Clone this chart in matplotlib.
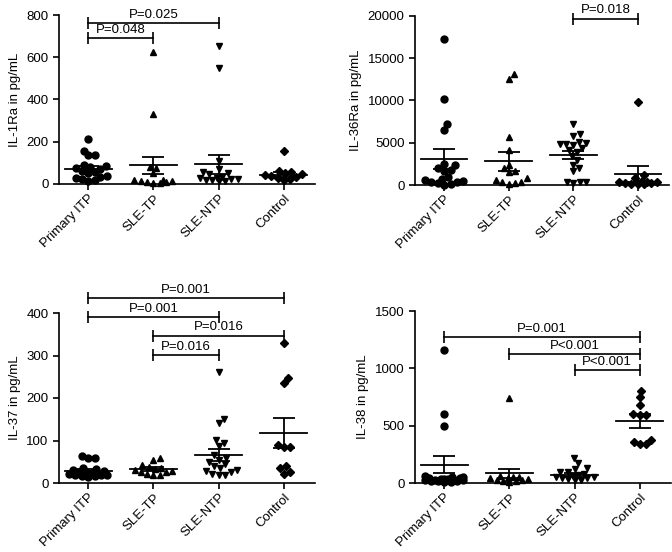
import numpy as np
import matplotlib
matplotlib.use("Agg")
from matplotlib import pyplot as plt

plt.rcParams['font.family'] = ['Liberation Sans', 'DejaVu Sans']
plt.rcParams['font.size'] = 9.5

groups = ["Primary ITP", "SLE-TP", "SLE-NTP", "Control"]
markers = ["o", "^", "v", "D"]

# IL-1Ra
il1ra = [
    [211, 157, 137, 135, 90, 85, 80, 75, 70, 60, 55, 50, 40, 35, 30, 25, 20, 15],
    [625, 330, 80, 78, 50, 20, 18, 15, 12, 10, 8, 6, 5],
    [655, 550, 110, 72, 55, 50, 45, 35, 30, 28, 25, 22, 20, 18, 15, 12],
    [155, 60, 55, 50, 45, 42, 38, 35, 30, 25, 20],
]
il1ra_mean = [72, 88, 93, 43]
il1ra_sem = [11, 42, 44, 12]

# IL-36Ra
il36ra = [
    [17300, 10200, 7200, 6500, 2500, 2400, 2000, 1800, 1700, 900, 700, 600, 500, 400, 300, 200, 100, 50],
    [13100, 12600, 5700, 4100, 2400, 2000, 1600, 1500, 800, 600, 400, 300, 200, 100],
    [7200, 6000, 5800, 5100, 5000, 4900, 4800, 4700, 4400, 4100, 3900, 3400, 3000, 2400, 2000, 1600, 400, 300, 300, 200],
    [9800, 1200, 800, 500, 400, 300, 300, 200, 200, 150, 100, 100],
]
il36ra_mean = [3100, 2800, 3550, 1300]
il36ra_sem = [1150, 1100, 450, 1000]

# IL-37
il37 = [
    [63, 60, 58, 35, 32, 30, 28, 27, 25, 24, 22, 21, 20, 19, 18, 17, 16, 15],
    [60, 55, 42, 38, 35, 33, 30, 28, 26, 25, 22, 20, 18],
    [262, 150, 142, 102, 95, 88, 65, 60, 55, 50, 45, 40, 35, 30, 28, 25, 22, 20, 20],
    [330, 247, 235, 90, 85, 85, 40, 35, 27, 22],
]
il37_mean = [28, 33, 66, 118]
il37_sem = [4, 5, 14, 35]

# IL-38
il38 = [
    [1160, 600, 500, 60, 55, 50, 45, 40, 38, 35, 32, 30, 28, 25, 22, 20, 18, 15, 12, 10],
    [740, 60, 55, 50, 45, 40, 35, 30, 25, 20, 15, 10],
    [222, 175, 130, 125, 100, 95, 80, 70, 60, 55, 50, 45, 40, 35, 30, 25],
    [805, 750, 680, 600, 595, 590, 375, 360, 340, 340],
]
il38_mean = [160, 85, 68, 540]
il38_sem = [75, 40, 20, 58]

# brackets: (group a, group b, height, label)
br1 = [(0, 1, 690, "P=0.048"), (0, 2, 763, "P=0.025")]
br2 = [(2, 3, 19700, "P=0.018")]
br3 = [(0, 3, 436, "P=0.001"), (0, 2, 390, "P=0.001"), (1, 3, 347, "P=0.016"), (1, 2, 302, "P=0.016")]
br4 = [(0, 3, 1273, "P=0.001"), (1, 3, 1127, "P<0.001"), (2, 3, 982, "P<0.001")]

W, H = 672, 552
fig = plt.figure(figsize=(W / 100, H / 100), dpi=100)


def swarm(ax, vals, d, lim):
    # beeswarm in pixel space, kept within +-lim px (overlap allowed when full)
    to_px = ax.transData.transform
    ppx = to_px((1, 0))[0] - to_px((0, 0))[0]
    ys = [to_px((0, v))[1] for v in vals]
    order = np.argsort(ys)
    placed = []
    xs = np.zeros(len(vals))
    grid = np.linspace(-lim, lim, 21)
    for i in order:
        y = ys[i]
        cands = [0.0]
        for (px, py) in placed:
            dy = abs(py - y)
            if dy < d:
                dx = np.sqrt(d * d - dy * dy)
                cands += [px + dx, px - dx]
        cands = sorted([c for c in cands if abs(c) <= lim], key=abs)
        best = None
        for c in cands:
            if all((c - px) ** 2 + (y - py) ** 2 >= d * d - 1e-6 for px, py in placed):
                best = c
                break
        if best is None:
            score = [min((g - px) ** 2 + (y - py) ** 2 for px, py in placed) for g in grid]
            best = grid[int(np.argmax(score))]
        placed.append((best, y))
        xs[i] = best / ppx
    return xs


def panel(rect, data, means, sems, ymax, step, ylabel, brackets):
    ax = fig.add_axes(rect)
    ax.set_xlim(-0.45, 3.48)
    ax.set_ylim(0, ymax)
    ax.spines['top'].set_visible(False)
    ax.spines['right'].set_visible(False)
    for s in ['left', 'bottom']:
        ax.spines[s].set_linewidth(1.2)
    ax.tick_params(width=1.2, length=4, labelsize=9.5)
    ax.tick_params(axis='x', pad=2)
    ax.set_yticks(np.arange(0, ymax + 1, step))
    ax.set_xticks(range(4))
    ax.set_xticklabels(groups, rotation=45, ha='right', rotation_mode='anchor')
    ax.set_ylabel(ylabel, fontsize=9.5)
    for i, vals in enumerate(data):
        xs = swarm(ax, vals, 6.5, 19)
        ms = 5 if markers[i] != 'D' else 4.2
        ax.plot(i + xs, vals, linestyle='none', marker=markers[i], color='black',
                markersize=ms, clip_on=False, zorder=3)
        m, s = means[i], sems[i]
        ax.plot([i - 0.36, i + 0.36], [m, m], color='black', lw=1.3, zorder=4)
        ax.errorbar(i, m, yerr=s, color='black', lw=1.3, capsize=8, capthick=1.3, zorder=4)
    for a, b, h, lab in brackets:
        ax.plot([a, b], [h, h], color='black', lw=1.2, clip_on=False)
        ax.plot([a, b], [h, h], linestyle='none', marker='|', markersize=8,
                markeredgewidth=1.2, color='black', clip_on=False)
        ax.annotate(lab, xy=((a + b) / 2, h), xytext=(0, 1.5), textcoords='offset points',
                    ha='center', va='bottom', fontsize=9.5, annotation_clip=False)
    return ax


def rect(l, r, b, t):
    return [l / W, 1 - b / H, (r - l) / W, (b - t) / H]


panel(rect(59, 315, 184, 15), il1ra, il1ra_mean, il1ra_sem, 800, 200, "IL-1Ra in pg/mL", br1)
panel(rect(415, 669, 185, 16), il36ra, il36ra_mean, il36ra_sem, 20000, 5000, "IL-36Ra in pg/mL", br2)
panel(rect(59, 315, 483, 313), il37, il37_mean, il37_sem, 400, 100, "IL-37 in pg/mL", br3)
panel(rect(415, 671, 483, 311), il38, il38_mean, il38_sem, 1500, 500, "IL-38 in pg/mL", br4)

fig.savefig("out.png", dpi=100)
